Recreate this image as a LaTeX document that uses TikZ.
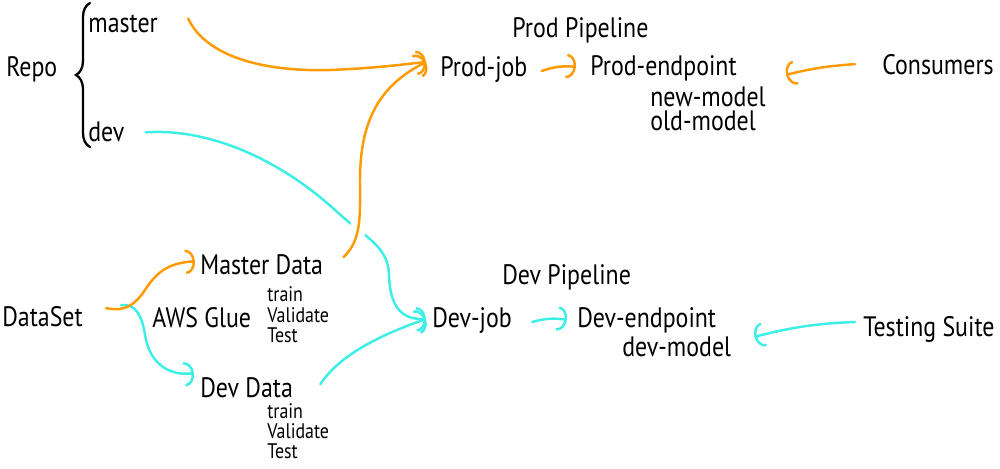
\documentclass[tikz,border=0pt]{standalone}
\usepackage{fontspec}
\setmainfont{PT Sans}[FakeStretch=0.85]
\usepackage{xcolor}
\usepackage{tikz}
\usetikzlibrary{positioning, arrows.meta, calc, decorations.pathreplacing}
\definecolor{prodorange}{HTML}{FF9A00}
\definecolor{devcyan}{HTML}{3CEFE6}
\newcommand{\biglbl}{\fontsize{16}{19}\selectfont}
\newcommand{\smalllbl}{\fontsize{12}{14}\selectfont}

\begin{document}
\begin{tikzpicture}[
    x=0.02cm, y=-0.02cm,
    lbl/.style={font=\biglbl, inner sep=0pt, anchor=base west},
    sub/.style={font=\smalllbl, inner sep=0pt, anchor=base west},
    prodline/.style={-{Arc Barb[width=14pt, length=5.5pt]}, line width=1.4pt, line cap=round, prodorange},
    devline/.style={-{Arc Barb[width=14pt, length=5.5pt]}, line width=1.4pt, line cap=round, devcyan},
    halo/.style={preaction={draw=white, line width=9pt, -}},
    brace/.style={decorate, decoration={brace, amplitude=8pt}, line width=1.3pt, line cap=round}
]
    \useasboundingbox (0,0) rectangle (1000,469);
    % Repo
    \node[lbl] (repo) at (6,77) {Repo};
    \node[lbl] (master) at (88,33) {master};
    \node[lbl] (dev) at (88,142) {dev};
    \draw[brace] (90,147) -- (90,3);
    % Prod pipeline
    \node[lbl] (prodpipe) at (512,38) {Prod Pipeline};
    \node[lbl] (prodjob) at (440,77) {Prod-job};
    \node[lbl] (prodend) at (590,76) {Prod-endpoint};
    \node[lbl, anchor=north west, align=left, font={\fontsize{16}{13.8}\selectfont}] (models) at (650,86) {new-model\\old-model};
    \node[lbl] (consumers) at (882,75) {Consumers};
    % Dev pipeline
    \node[lbl] (devpipe) at (502,285) {Dev Pipeline};
    \node[lbl] (devjob) at (432,328) {Dev-job};
    \node[lbl] (devend) at (577,328) {Dev-endpoint};
    \node[lbl] (devmodel) at (622,357) {dev-model};
    \node[lbl] (testing) at (863,337) {Testing Suite};
    % Data
    \node[lbl] (dataset) at (2,327) {DataSet};
    \node[lbl] (glue) at (152,328) {AWS Glue};
    \node[lbl] (masterdata) at (200,275) {Master Data};
    \node[sub] (mtrain) at (267,302) {train};
    \node[sub] (mval) at (267,322) {Validate};
    \node[sub] (mtest) at (267,342) {Test};
    \node[lbl] (devdata) at (200,397) {Dev Data};
    \node[sub] (dtrain) at (267,418) {train};
    \node[sub] (dval) at (267,438) {Validate};
    \node[sub] (dtest) at (267,458) {Test};
    % dev branch
    \draw[devline] ([shift={(21,0)}]dev.east) .. controls (210,128) and (280,160) .. (335,210)
        .. controls (365,238) and (388,245) .. (389,275)
        .. controls (390,305) and (400,320) .. ([shift={(-6,-2)}]devjob.west);
    \draw[devline] ([shift={(38,-12)}]dataset.east) .. controls (135,303) and (142,315) .. (145,335)
        .. controls (150,365) and (170,376) .. ([shift={(-6,-14)}]devdata.west);
    \draw[devline] ([shift={(27,-3)}]devdata.east) .. controls (335,362) and (365,340) .. ([shift={(-6,-2)}]devjob.west);
    \draw[devline] ([shift={(20,1)}]devjob.east) to[bend left=12] ([shift={(-10,-1)}]devend.west);
    \draw[devline] ([shift={(-8,-8)}]testing.west) to[bend right=6] ([shift={(38,16)}]devend.east);
    % master branch
    \draw[prodline, halo] ([shift={(20,-8)}]masterdata.east) .. controls (362,240) and (360,215) .. (360,180)
        .. controls (360,120) and (380,85) .. ([shift={(-14,-8)}]prodjob.west);
    \draw[prodline] ([shift={(30,-6)}]master.east) .. controls (205,55) and (260,72) .. (330,70)
        .. controls (380,68) and (405,64) .. ([shift={(-14,-8)}]prodjob.west);
    \draw[prodline] ([shift={(23,-9)}]dataset.east) .. controls (125,312) and (135,305) .. (145,290)
        .. controls (158,270) and (170,263) .. ([shift={(-5,-4)}]masterdata.west);
    \draw[prodline] ([shift={(14,1)}]prodjob.east) to[bend left=12] ([shift={(-14,-2)}]prodend.west);
    \draw[prodline] ([shift={(-27,-1)}]consumers.west) to[bend right=5] ([shift={(49,6)}]prodend.east);
\end{tikzpicture}
\end{document}
